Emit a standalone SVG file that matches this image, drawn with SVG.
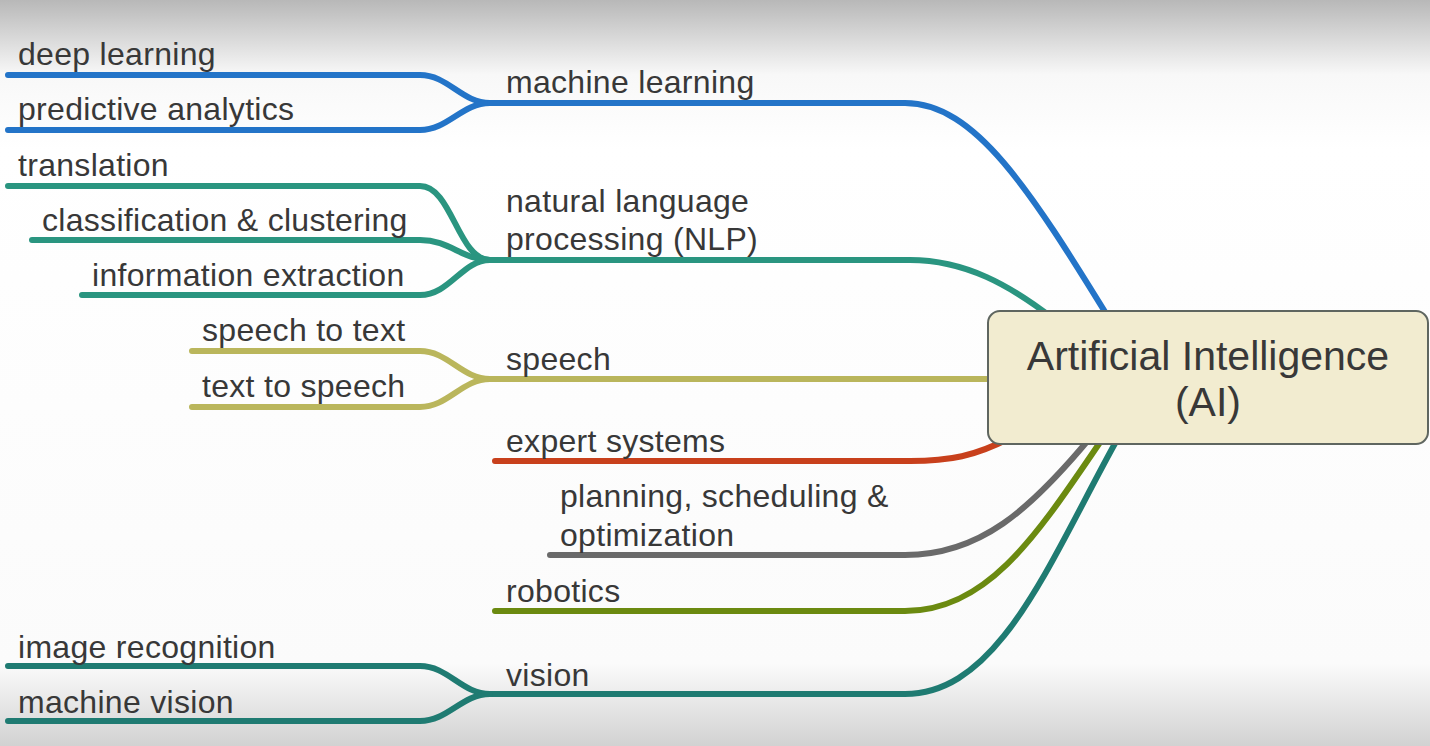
<svg xmlns="http://www.w3.org/2000/svg" width="1430" height="746" viewBox="0 0 1430 746">
<defs>
<linearGradient id="bg" x1="0" y1="0" x2="0" y2="1">
<stop offset="0" stop-color="#b8b8b8"/>
<stop offset="0.1" stop-color="#f8f8f8"/>
<stop offset="0.2" stop-color="#ffffff"/>
<stop offset="0.89" stop-color="#fbfbfb"/>
<stop offset="1" stop-color="#d2d2d2"/>
</linearGradient>
<style>
.lbl{font-family:"Liberation Sans",Arial,sans-serif;font-size:32px;letter-spacing:0.3px;fill:#383838}
.main{font-family:"Liberation Sans",Arial,sans-serif;font-size:41px;fill:#383838}
.c{fill:none;stroke-width:6;stroke-linecap:round;stroke-linejoin:round}
.blue{stroke:#2374c8}.nlp{stroke:#2a9580}.sp{stroke:#bab65c}.ex{stroke:#c8401c}
.pl{stroke:#6a6a6a}.rb{stroke:#6b8a10}.vi{stroke:#1f7b72}
</style>
</defs>
<rect x="0" y="0" width="1430" height="746" fill="url(#bg)"/>
<g id="connectors">
<path class="c blue" d="M8,75 H420 C448,75 462,103 490,103"/>
<path class="c blue" d="M8,130 H420 C448,130 462,103 490,103"/>
<path class="c blue" d="M490,103 H905 C975,103 1030,190 1110,320"/>
<path class="c nlp" d="M8,186 H420 C452,186 458,260 490,260"/>
<path class="c nlp" d="M32,240 H420 C450,240 462,260 490,260"/>
<path class="c nlp" d="M82,295 H420 C450,295 462,260 490,260"/>
<path class="c nlp" d="M490,260 H910 C965,260 1010,285 1055,320"/>
<path class="c sp" d="M192,351 H420 C448,351 462,379 490,379"/>
<path class="c sp" d="M192,407 H420 C448,407 462,379 490,379"/>
<path class="c sp" d="M490,379 H1000"/>
<path class="c ex" d="M495,461 H910 C950,461 975,456 1010,438"/>
<path class="c pl" d="M550,555 H905 C980,555 1030,510 1090,438"/>
<path class="c rb" d="M495,611 H905 C990,611 1040,530 1103,438"/>
<path class="c vi" d="M490,694 H905 C1000,694 1050,560 1118,438"/>
<path class="c vi" d="M8,666 H420 C448,666 462,694 490,694"/>
<path class="c vi" d="M8,721 H420 C448,721 462,694 490,694"/>
</g>
<g id="ai">
<rect x="988" y="311" width="440" height="133" rx="12" fill="#f2ecd0" stroke="#5f6660" stroke-width="2"/>
<text class="main" x="1208" y="370" text-anchor="middle">Artificial Intelligence</text>
<text class="main" x="1208" y="416" text-anchor="middle">(AI)</text>
</g>
<g id="machine-learning"><text class="lbl" x="506" y="93">machine learning</text></g>
<g id="deep-learning"><text class="lbl" x="18" y="65">deep learning</text></g>
<g id="predictive-analytics"><text class="lbl" x="18" y="120">predictive analytics</text></g>
<g id="nlp"><text class="lbl" x="506" y="212">natural language</text><text class="lbl" x="506" y="250">processing (NLP)</text></g>
<g id="translation"><text class="lbl" x="18" y="176">translation</text></g>
<g id="classification"><text class="lbl" x="42" y="231">classification &amp; clustering</text></g>
<g id="information-extraction"><text class="lbl" x="92" y="286">information extraction</text></g>
<g id="speech"><text class="lbl" x="506" y="370">speech</text></g>
<g id="speech-to-text"><text class="lbl" x="202" y="341">speech to text</text></g>
<g id="text-to-speech"><text class="lbl" x="202" y="397">text to speech</text></g>
<g id="expert-systems"><text class="lbl" x="506" y="452">expert systems</text></g>
<g id="planning"><text class="lbl" x="560" y="507">planning, scheduling &amp;</text><text class="lbl" x="560" y="546">optimization</text></g>
<g id="robotics"><text class="lbl" x="506" y="602">robotics</text></g>
<g id="vision"><text class="lbl" x="506" y="686">vision</text></g>
<g id="image-recognition"><text class="lbl" x="18" y="658">image recognition</text></g>
<g id="machine-vision"><text class="lbl" x="18" y="713">machine vision</text></g>
</svg>
